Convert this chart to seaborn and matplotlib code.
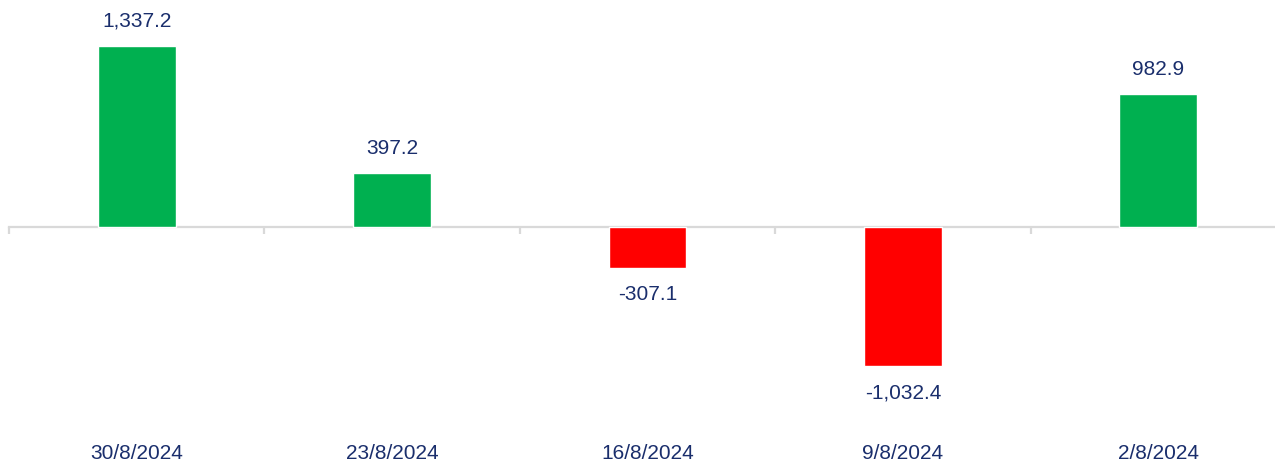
import numpy as np
import pandas as pd
import seaborn as sns
import matplotlib.pyplot as plt
import matplotlib.transforms as mtransforms

dates = ["30/8/2024", "23/8/2024", "16/8/2024", "9/8/2024", "2/8/2024"]
values = [1337.2, 397.2, -307.1, -1032.4, 982.9]
labels = ["1,337.2", "397.2", "-307.1", "-1,032.4", "982.9"]

green = "#00B050"
red = "#FF0000"
text_col = "#1A2E6C"
line_col = "#D9D9D9"

sns.set_theme(style="white")
plt.rcParams["font.family"] = ["Liberation Sans", "DejaVu Sans"]

df = pd.DataFrame({"date": dates, "value": values})
colors = [green if v >= 0 else red for v in values]

fig = plt.figure(figsize=(12.75, 4.65), dpi=100)
# axes runs a bit past the right edge, like the original
ax = fig.add_axes([9 / 1275, 30 / 465, 1277 / 1275, 435 / 465])

sns.barplot(data=df, x="date", y="value", hue="date", palette=colors,
            legend=False, width=0.305, saturation=1, ax=ax)

ax.set_xlim(-0.5, 4.5)
ax.set_ylim(-1541, 1681)

for s in ["top", "right", "left"]:
    ax.spines[s].set_visible(False)
ax.spines["bottom"].set_position(("data", 0))
ax.spines["bottom"].set_color(line_col)
ax.spines["bottom"].set_linewidth(1.6)
ax.spines["bottom"].set_zorder(0)

ax.set_xticks(np.arange(-0.5, len(dates), 1.0))
ax.set_xticklabels([])
ax.tick_params(axis="x", direction="out", length=5, width=1.6, color=line_col, bottom=True)
ax.set_yticks([])
ax.set_xlabel("")
ax.set_ylabel("")

# value labels
for i, (v, lab) in enumerate(zip(values, labels)):
    off = 18 if v >= 0 else -19
    ax.annotate(lab, (i, v), xytext=(0, off), textcoords="offset points",
                ha="center", va="center", fontsize=15, color=text_col)

# category labels along the bottom
trans = mtransforms.blended_transform_factory(ax.transData, fig.transFigure)
for i, d in enumerate(dates):
    ax.text(i, 1 - 453 / 465, d, transform=trans, ha="center", va="center",
            fontsize=15, color=text_col, clip_on=False)

fig.savefig("out.png", dpi=100)
